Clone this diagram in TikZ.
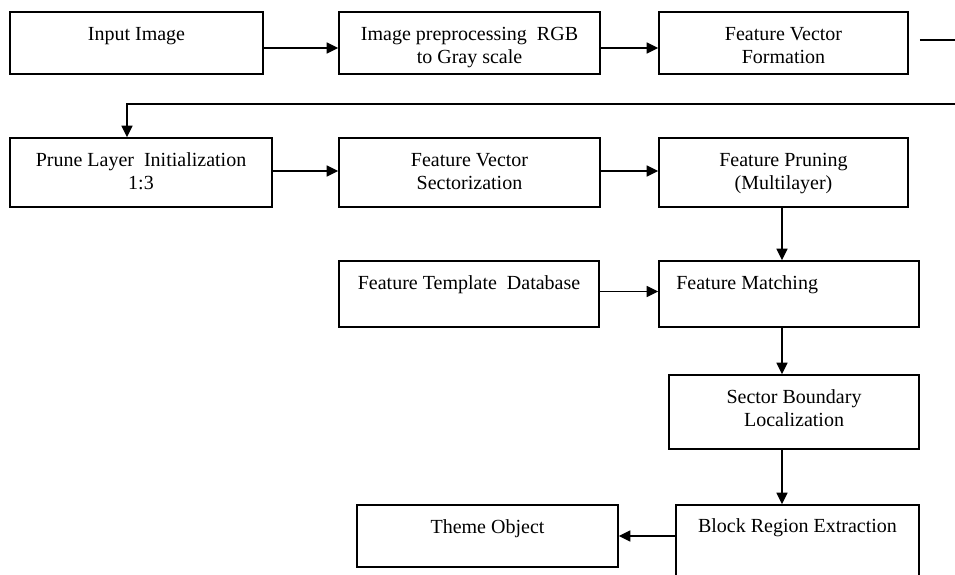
\documentclass[tikz,border=0pt]{standalone}
\usepackage{fontspec}
\setmainfont{Liberation Serif}
\usetikzlibrary{arrows.meta,calc}
\begin{document}
\begin{tikzpicture}[x=1pt,y=-1pt,
  box/.style={draw=black,line width=1.7pt,rectangle,inner sep=0pt},
  txt/.style={font=\fontsize{20}{23.5}\selectfont,align=center,inner sep=0pt,text=black},
  arr/.style={line width=1.5pt,-{Triangle[length=11.5pt,width=11pt]}},
  ln/.style={line width=1.5pt}]
\useasboundingbox (0,0) rectangle (955,575);
\clip (0,0) rectangle (955,575);
\fill[white] (0,0) rectangle (955,575);
% row 1
\node[box,minimum width=253pt,minimum height=62pt,
  label={[txt,anchor=north,yshift=-12.5pt]north:\strut Input Image}] (b1) at (136.5,43) {};
\node[box,minimum width=261pt,minimum height=62pt,
  label={[txt,anchor=north,yshift=-12.5pt]north:\strut Image preprocessing\ \ RGB\\\strut to Gray scale}] (b2) at (469.5,43) {};
\node[box,minimum width=249pt,minimum height=62pt,
  label={[txt,anchor=north,yshift=-12.5pt]north:\strut Feature Vector\\\strut Formation}] (b3) at (783.5,43) {};
% row 2
\node[box,minimum width=262pt,minimum height=69pt,
  label={[txt,anchor=north,yshift=-12.5pt]north:\strut Prune Layer\ \ Initialization\\\strut 1:3}] (b4) at (141,172.5) {};
\node[box,minimum width=261pt,minimum height=69pt,
  label={[txt,anchor=north,yshift=-12.5pt]north:\strut Feature Vector\\\strut Sectorization}] (b5) at (469.5,172.5) {};
\node[box,minimum width=249pt,minimum height=69pt,
  label={[txt,anchor=north,yshift=-12.5pt]north:\strut Feature Pruning\\\strut (Multilayer)}] (b6) at (783.5,172.5) {};
% row 3
\node[box,minimum width=260pt,minimum height=66pt,
  label={[txt,anchor=north,yshift=-12.5pt]north:\strut Feature Template\ \ Database}] (b7) at (469,294) {};
\node[box,minimum width=260pt,minimum height=66pt,
  label={[txt,anchor=north west,xshift=18pt,yshift=-12.5pt]north west:\strut Feature Matching}] (b8) at (789,294) {};
% row 4
\node[box,minimum width=250pt,minimum height=74pt,
  label={[txt,anchor=north,yshift=-12.5pt]north:\strut Sector Boundary\\\strut Localization}] (b9) at (794,412) {};
% row 5
\node[box,minimum width=243pt,minimum height=80pt,
  label={[txt,anchor=north,yshift=-11.5pt]north:\strut Block Region Extraction}] (b10) at (797.5,545) {};
\node[box,minimum width=261pt,minimum height=62pt,
  label={[txt,anchor=north,yshift=-12.5pt]north:\strut Theme Object}] (b11) at (487.5,536) {};
% off-page connector ends
\coordinate (out1) at (955,40);
\coordinate (in1) at (955,104);
\coordinate (kink) at (127,104);
% connectors
\draw[arr] ([yshift=-5pt]b1.east) -- ([yshift=-5pt]b2.west);
\draw[arr] ([yshift=-5pt]b2.east) -- ([yshift=-5pt]b3.west);
\draw[ln] ([xshift=11pt,yshift=3pt]b3.east) -- (out1);
\draw[arr] (in1) -- (kink) -- (kink |- b4.north);
\draw[arr] ([yshift=1.5pt]b4.east) -- ([yshift=1.5pt]b5.west);
\draw[arr] ([yshift=1.5pt]b5.east) -- ([yshift=1.5pt]b6.west);
\draw[arr] ([xshift=-1.5pt]b6.south) -- ([xshift=-1.5pt]b6.south |- b8.north);
\draw[arr] ([yshift=2.5pt]b7.east) -- ([yshift=2.5pt]b8.west);
\draw[arr] ([xshift=-1.5pt]b6.south |- b8.south) -- ([xshift=-1.5pt]b6.south |- b9.north);
\draw[arr] ([xshift=-1.5pt]b6.south |- b9.south) -- ([xshift=-1.5pt]b6.south |- b10.north);
\draw[arr] (b10.west |- b11.east) -- (b11.east);
\end{tikzpicture}
\end{document}
